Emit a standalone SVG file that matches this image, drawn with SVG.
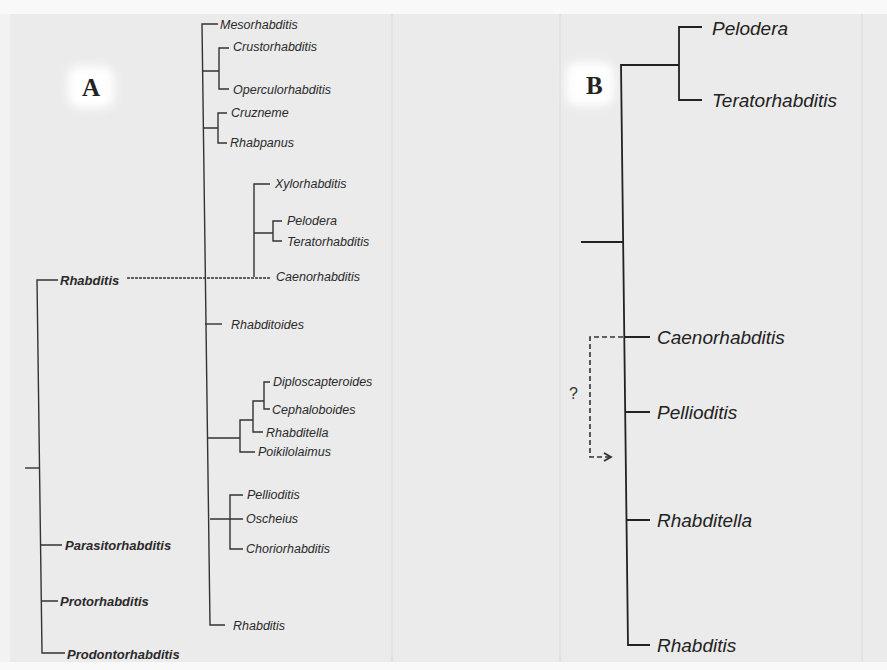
<svg xmlns="http://www.w3.org/2000/svg" width="887" height="670" viewBox="0 0 887 670">
<style>
.a{font-family:"Liberation Sans",Arial,sans-serif;font-style:italic;font-size:12.5px;fill:#2a2a2a}
.ab{font-family:"Liberation Sans",Arial,sans-serif;font-style:italic;font-weight:bold;font-size:13px;fill:#2a2a2a}
.b{font-family:"Liberation Sans",Arial,sans-serif;font-style:italic;font-size:19px;fill:#222}
.lab{font-family:"Liberation Serif","Times New Roman",serif;font-weight:bold;font-size:25px;fill:#222}
.q{font-family:"Liberation Sans",Arial,sans-serif;font-size:16px;fill:#333}
.la{stroke:#333;stroke-width:1.4;fill:none}
.ld{stroke:#333;stroke-width:1.4;fill:none;stroke-dasharray:3 1}
.lb{stroke:#222;stroke-width:1.8;fill:none}
.dash{stroke:#333;stroke-width:1.6;fill:none;stroke-dasharray:5 3}
</style>
<defs>
<filter id="blur" x="-30%" y="-30%" width="160%" height="160%"><feGaussianBlur stdDeviation="5"/></filter>
<marker id="arr" markerWidth="10" markerHeight="10" refX="8" refY="5" orient="auto" markerUnits="userSpaceOnUse">
<path d="M1,1 L8,5 L1,9" fill="none" stroke="#333" stroke-width="1.8"/>
</marker>
</defs>
<g id="background">
<rect x="0" y="0" width="887" height="670" fill="#ebebeb"/>
<rect x="0" y="0" width="887" height="14" fill="#f9f9f9"/>
<rect x="0" y="662" width="887" height="8" fill="#f9f9f9"/>
<rect x="0" y="14" width="10" height="648" fill="#f2f2f2"/>
<line x1="392" y1="14" x2="392" y2="662" stroke="#d9d9d9" stroke-width="1"/>
<line x1="560" y1="14" x2="560" y2="662" stroke="#dadada" stroke-width="1"/>
<line x1="862" y1="14" x2="862" y2="662" stroke="#dadada" stroke-width="1"/>
<rect x="68" y="66" width="46" height="42" rx="12" fill="#fff" filter="url(#blur)"/>
<rect x="566" y="62" width="48" height="44" rx="12" fill="#fff" filter="url(#blur)"/>
</g>
<g id="panel-labels">
<text class="lab" x="82" y="96">A</text>
<text class="lab" x="586" y="94">B</text>
</g>
<g id="connectors">
<!-- panel A main -->
<path class="la" d="M218,24 H202 L210,625 H225"/>
<path class="la" d="M202.8,71 H219 M229,48 H219 V89 H229"/>
<path class="la" d="M203.4,128 H218 M227,113 H218 V143 H227"/>
<path class="la" d="M270,184 H254 V277 M254,233 H273 M282,221 H273 V241 H282"/>
<path class="ld" d="M127,278 H270"/>
<path class="la" d="M205,324 H222"/>
<path class="la" d="M208,438 H240 M255,452 H240 V420 H253 M263,432 H253 V401 H264 M270,382 H264 V409 H270"/>
<path class="la" d="M210,519 H243 M243,495 H230 V549 H243"/>
<!-- panel A left -->
<path class="la" d="M58,280 H37 L42,653 H65"/>
<path class="la" d="M25,468 H39.5"/>
<path class="la" d="M41,545 H62 M41.5,601 H58"/>
<!-- panel B -->
<path class="lb" d="M679,65 H621 L628,645 H650"/>
<path class="lb" d="M702,27 H679 V100 H702"/>
<path class="lb" d="M581,242 H623"/>
<path class="lb" d="M625,337 H650 M626,412 H650 M627,520 H650"/>
<path class="dash" d="M623,337 H590 V457 H611" marker-end="url(#arr)"/>
</g>
<g id="n-mesorhabditis"><text class="a" x="220" y="29">Mesorhabditis</text></g>
<g id="n-crustorhabditis"><text class="a" x="233" y="51">Crustorhabditis</text></g>
<g id="n-operculorhabditis"><text class="a" x="233" y="94">Operculorhabditis</text></g>
<g id="n-cruzneme"><text class="a" x="231" y="117">Cruzneme</text></g>
<g id="n-rhabpanus"><text class="a" x="230" y="147">Rhabpanus</text></g>
<g id="n-xylorhabditis"><text class="a" x="275" y="188">Xylorhabditis</text></g>
<g id="n-pelodera-a"><text class="a" x="287" y="225">Pelodera</text></g>
<g id="n-teratorhabditis-a"><text class="a" x="287" y="246">Teratorhabditis</text></g>
<g id="n-caenorhabditis-a"><text class="a" x="276" y="281">Caenorhabditis</text></g>
<g id="n-rhabditoides"><text class="a" x="231" y="329">Rhabditoides</text></g>
<g id="n-diploscapteroides"><text class="a" x="273" y="386">Diploscapteroides</text></g>
<g id="n-cephaloboides"><text class="a" x="272" y="414">Cephaloboides</text></g>
<g id="n-rhabditella-a"><text class="a" x="266" y="437">Rhabditella</text></g>
<g id="n-poikilolaimus"><text class="a" x="258" y="456">Poikilolaimus</text></g>
<g id="n-pellioditis-a"><text class="a" x="247" y="499">Pellioditis</text></g>
<g id="n-oscheius"><text class="a" x="246" y="523">Oscheius</text></g>
<g id="n-choriorhabditis"><text class="a" x="246" y="553">Choriorhabditis</text></g>
<g id="n-rhabditis-a"><text class="a" x="233" y="630">Rhabditis</text></g>
<g id="n-rhabditis-left"><text class="ab" x="60" y="285">Rhabditis</text></g>
<g id="n-parasitorhabditis"><text class="ab" x="65" y="550">Parasitorhabditis</text></g>
<g id="n-protorhabditis"><text class="ab" x="60" y="606">Protorhabditis</text></g>
<g id="n-prodontorhabditis"><text class="ab" x="67" y="659">Prodontorhabditis</text></g>
<g id="n-pelodera-b"><text class="b" x="712" y="35">Pelodera</text></g>
<g id="n-teratorhabditis-b"><text class="b" x="712" y="107">Teratorhabditis</text></g>
<g id="n-caenorhabditis-b"><text class="b" x="657" y="344">Caenorhabditis</text></g>
<g id="n-pellioditis-b"><text class="b" x="657" y="419">Pellioditis</text></g>
<g id="n-rhabditella-b"><text class="b" x="657" y="527">Rhabditella</text></g>
<g id="n-rhabditis-b"><text class="b" x="657" y="652">Rhabditis</text></g>
<g id="q-mark"><text class="q" x="569" y="399">?</text></g>
</svg>
